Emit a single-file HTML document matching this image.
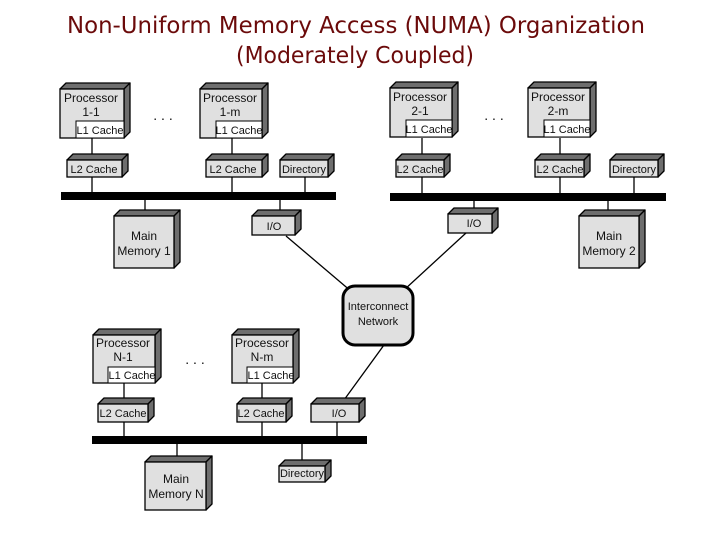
<!DOCTYPE html>
<html><head><meta charset="utf-8"><style>
html,body{margin:0;padding:0;background:#fff;}
svg{display:block;}
.f{fill:#e0e0e0;stroke:#000;stroke-width:1.3;}
.d{fill:#6e6e6e;stroke:#000;stroke-width:1.3;stroke-linejoin:round;}
.w{fill:#fff;stroke:#000;stroke-width:1;}
text{font-family:"Liberation Sans",sans-serif;fill:#111;}
.t{font-size:11px;}
.p{font-size:12px;}
.l{stroke:#000;stroke-width:1.3;fill:none;}
</style></head><body>
<svg width="720" height="540" viewBox="0 0 720 540" xmlns="http://www.w3.org/2000/svg">
<text x="356" y="33" text-anchor="middle" style="font-size:23px;fill:#6b0a0a;font-family:'DejaVu Sans','Liberation Sans',sans-serif" textLength="578" lengthAdjust="spacingAndGlyphs">Non-Uniform Memory Access (NUMA) Organization</text>
<text x="355" y="63" text-anchor="middle" style="font-size:23px;fill:#6b0a0a;font-family:'DejaVu Sans','Liberation Sans',sans-serif" textLength="238" lengthAdjust="spacingAndGlyphs">(Moderately Coupled)</text>

<!-- connectors -->
<g class="l">
<line x1="92" y1="138" x2="92" y2="160"/><line x1="232" y1="138" x2="232" y2="160"/>
<line x1="92" y1="177" x2="92" y2="193"/><line x1="232" y1="177" x2="232" y2="193"/><line x1="305" y1="177" x2="305" y2="193"/>
<line x1="145" y1="200" x2="145" y2="212"/><line x1="280" y1="200" x2="280" y2="210"/>
<line x1="422" y1="138" x2="422" y2="160"/><line x1="560" y1="138" x2="560" y2="160"/>
<line x1="422" y1="177" x2="422" y2="193"/><line x1="560" y1="177" x2="560" y2="193"/><line x1="634" y1="177" x2="634" y2="193"/>
<line x1="474" y1="200" x2="474" y2="210"/><line x1="608" y1="200" x2="608" y2="210"/>
<line x1="124" y1="383" x2="124" y2="403"/><line x1="262" y1="383" x2="262" y2="403"/>
<line x1="124" y1="422" x2="124" y2="437"/><line x1="262" y1="422" x2="262" y2="437"/><line x1="337" y1="422" x2="337" y2="437"/>
<line x1="177" y1="444" x2="177" y2="456"/><line x1="302" y1="444" x2="302" y2="461"/>
<line x1="286" y1="236" x2="352" y2="292"/><line x1="466" y1="233" x2="404" y2="290"/><line x1="384" y1="345" x2="344" y2="400"/>
</g>

<!-- buses -->
<rect x="61" y="192" width="275" height="8" fill="#000"/>
<rect x="390" y="193" width="276" height="8" fill="#000"/>
<rect x="92" y="436" width="275" height="8" fill="#000"/>

<!-- Group 1 -->
<polygon class="d" points="60,89 66,83 130,83 124,89"/><polygon class="d" points="124,89 130,83 130,132 124,138"/><rect class="f" x="60" y="89" width="64" height="49"/>
<rect class="w" x="76" y="121" width="48" height="17"/>
<text class="p" x="91" y="102" text-anchor="middle">Processor</text><text class="p" x="91" y="116" text-anchor="middle">1-1</text><text class="t" x="100" y="134" text-anchor="middle">L1 Cache</text>

<polygon class="d" points="200,89 206,83 268,83 262,89"/><polygon class="d" points="262,89 268,83 268,132 262,138"/><rect class="f" x="200" y="89" width="62" height="49"/>
<rect class="w" x="216" y="121" width="46" height="17"/>
<text class="p" x="230" y="102" text-anchor="middle">Processor</text><text class="p" x="230" y="116" text-anchor="middle">1-m</text><text class="t" x="239" y="134" text-anchor="middle">L1 Cache</text>
<text x="163" y="120" style="font-size:14px" text-anchor="middle">. . .</text>

<polygon class="d" points="67,160 73,154 128,154 122,160"/><polygon class="d" points="122,160 128,154 128,171 122,177"/><rect class="f" x="67" y="160" width="55" height="17"/><text class="t" x="94" y="173" text-anchor="middle">L2 Cache</text>
<polygon class="d" points="206,160 212,154 268,154 262,160"/><polygon class="d" points="262,160 268,154 268,171 262,177"/><rect class="f" x="206" y="160" width="56" height="17"/><text class="t" x="233" y="173" text-anchor="middle">L2 Cache</text>
<polygon class="d" points="280,160 286,154 334,154 328,160"/><polygon class="d" points="328,160 334,154 334,171 328,177"/><rect class="f" x="280" y="160" width="48" height="17"/><text class="t" x="304" y="173" text-anchor="middle">Directory</text>

<polygon class="d" points="114,216 120,210 180,210 174,216"/><polygon class="d" points="174,216 180,210 180,262 174,268"/><rect class="f" x="114" y="216" width="60" height="52"/>
<text class="p" x="144" y="240" text-anchor="middle">Main</text><text class="p" x="144" y="255" text-anchor="middle">Memory 1</text>
<polygon class="d" points="252,216 258,210 301,210 295,216"/><polygon class="d" points="295,216 301,210 301,229 295,235"/><rect class="f" x="252" y="216" width="43" height="19"/><text class="t" x="274" y="230" text-anchor="middle">I/O</text>

<!-- Group 2 -->
<polygon class="d" points="390,88 396,82 458,82 452,88"/><polygon class="d" points="452,88 458,82 458,131 452,137"/><rect class="f" x="390" y="88" width="62" height="49"/>
<rect class="w" x="406" y="120" width="46" height="17"/>
<text class="p" x="420" y="101" text-anchor="middle">Processor</text><text class="p" x="420" y="115" text-anchor="middle">2-1</text><text class="t" x="429" y="133" text-anchor="middle">L1 Cache</text>

<polygon class="d" points="528,88 534,82 596,82 590,88"/><polygon class="d" points="590,88 596,82 596,131 590,137"/><rect class="f" x="528" y="88" width="62" height="49"/>
<rect class="w" x="544" y="120" width="46" height="17"/>
<text class="p" x="558" y="101" text-anchor="middle">Processor</text><text class="p" x="558" y="115" text-anchor="middle">2-m</text><text class="t" x="567" y="133" text-anchor="middle">L1 Cache</text>
<text x="494" y="120" style="font-size:14px" text-anchor="middle">. . .</text>

<polygon class="d" points="396,160 402,154 450,154 444,160"/><polygon class="d" points="444,160 450,154 450,171 444,177"/><rect class="f" x="396" y="160" width="48" height="17"/><text class="t" x="420" y="173" text-anchor="middle">L2 Cache</text>
<polygon class="d" points="535,160 541,154 590,154 584,160"/><polygon class="d" points="584,160 590,154 590,171 584,177"/><rect class="f" x="535" y="160" width="49" height="17"/><text class="t" x="560" y="173" text-anchor="middle">L2 Cache</text>
<polygon class="d" points="610,160 616,154 664,154 658,160"/><polygon class="d" points="658,160 664,154 664,171 658,177"/><rect class="f" x="610" y="160" width="48" height="17"/><text class="t" x="634" y="173" text-anchor="middle">Directory</text>

<polygon class="d" points="448,214 454,208 498,208 492,214"/><polygon class="d" points="492,214 498,208 498,227 492,233"/><rect class="f" x="448" y="214" width="44" height="19"/><text class="t" x="474" y="227" text-anchor="middle">I/O</text>
<polygon class="d" points="579,216 585,210 645,210 639,216"/><polygon class="d" points="639,216 645,210 645,262 639,268"/><rect class="f" x="579" y="216" width="60" height="52"/>
<text class="p" x="609" y="240" text-anchor="middle">Main</text><text class="p" x="609" y="255" text-anchor="middle">Memory 2</text>

<!-- Interconnect -->
<rect x="343" y="286" width="70" height="59" rx="12" fill="#e0e0e0" stroke="#000" stroke-width="3"/>
<text class="t" x="378" y="310" text-anchor="middle">Interconnect</text><text class="t" x="378" y="325" text-anchor="middle">Network</text>

<!-- Group N -->
<polygon class="d" points="93,335 99,329 161,329 155,335"/><polygon class="d" points="155,335 161,329 161,377 155,383"/><rect class="f" x="93" y="335" width="62" height="48"/>
<rect class="w" x="108" y="367" width="47" height="16"/>
<text class="p" x="123" y="347" text-anchor="middle">Processor</text><text class="p" x="123" y="361" text-anchor="middle">N-1</text><text class="t" x="132" y="379" text-anchor="middle">L1 Cache</text>

<polygon class="d" points="232,335 238,329 299,329 293,335"/><polygon class="d" points="293,335 299,329 299,377 293,383"/><rect class="f" x="232" y="335" width="61" height="48"/>
<rect class="w" x="247" y="367" width="46" height="16"/>
<text class="p" x="262" y="347" text-anchor="middle">Processor</text><text class="p" x="262" y="361" text-anchor="middle">N-m</text><text class="t" x="271" y="379" text-anchor="middle">L1 Cache</text>
<text x="195" y="364" style="font-size:14px" text-anchor="middle">. . .</text>

<polygon class="d" points="98,404 104,398 154,398 148,404"/><polygon class="d" points="148,404 154,398 154,416 148,422"/><rect class="f" x="98" y="404" width="50" height="18"/><text class="t" x="123" y="417" text-anchor="middle">L2 Cache</text>
<polygon class="d" points="237,404 243,398 292,398 286,404"/><polygon class="d" points="286,404 292,398 292,416 286,422"/><rect class="f" x="237" y="404" width="49" height="18"/><text class="t" x="261" y="417" text-anchor="middle">L2 Cache</text>
<polygon class="d" points="311,404 317,398 365,398 359,404"/><polygon class="d" points="359,404 365,398 365,416 359,422"/><rect class="f" x="311" y="404" width="48" height="18"/><text class="t" x="339" y="417" text-anchor="middle">I/O</text>

<polygon class="d" points="145,462 151,456 212,456 206,462"/><polygon class="d" points="206,462 212,456 212,504 206,510"/><rect class="f" x="145" y="462" width="61" height="48"/>
<text class="p" x="176" y="483" text-anchor="middle">Main</text><text class="p" x="176" y="498" text-anchor="middle">Memory N</text>
<polygon class="d" points="279,466 285,460 331,460 325,466"/><polygon class="d" points="325,466 331,460 331,476 325,482"/><rect class="f" x="279" y="466" width="46" height="16"/><text class="t" x="302" y="477" text-anchor="middle">Directory</text>
</svg>
</body></html>
